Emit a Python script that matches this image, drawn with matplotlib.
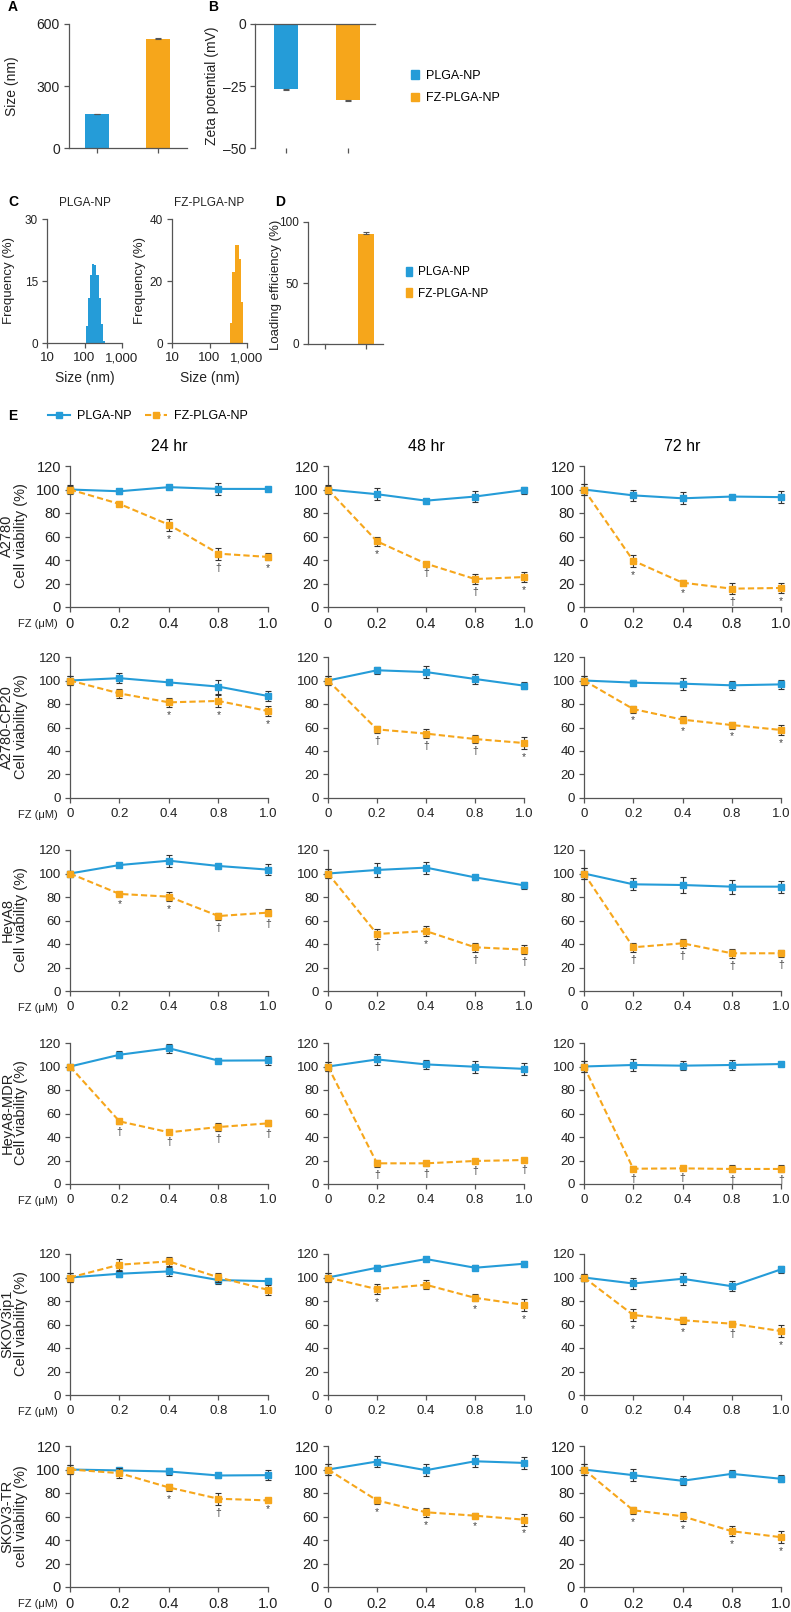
import matplotlib.pyplot as plt
from matplotlib.lines import Line2D
from matplotlib.patches import Patch

W, H = 791, 1612
BLUE = '#259cd8'
ORANGE = '#f6a61b'
GREY = '#555555'
EBAR = '#333333'
TXT = '#222222'

plt.rcParams['font.family'] = ['Liberation Sans', 'DejaVu Sans']

# --- A / B / D bar data ---
groups = ['PLGA-NP', 'FZ-PLGA-NP']
size_nm = [164, 527]
size_err = [2, 4]
zeta_mv = [-26.1, -30.5]
zeta_err = [0.6, 0.6]
loading = [0, 90.2]
loading_err = [0, 1.5]

# --- C size distributions (bin edges in nm, frequency in %) ---
plga_edges = [107, 122, 140, 160, 182, 208, 238, 272, 310, 354]
plga_freq = [4.0, 11.0, 16.5, 19.2, 18.9, 16.5, 11.0, 4.7, 0.6]
fz_edges = [359, 406, 469, 600, 678, 766]
fz_freq = [6.4, 23.0, 31.5, 27.0, 13.3]

# --- E cell viability ---
doses = ['0', '0.2', '0.4', '0.8', '1.0']
hours = ['24 hr', '48 hr', '72 hr']
cell_labels = ['A2780\nCell viability (%)', 'A2780-CP20\nCell viability (%)',
               'HeyA8\nCell viability (%)', 'HeyA8-MDR\nCell viability (%)',
               'SKOV3ip1\nCell viability (%)', 'SKOV3-TR\ncell viability (%)']

a2780_plga = [[100, 98.5, 102, 100.5, 100.5], [100, 96, 90.5, 94, 99.5], [100, 95, 92.5, 94, 93.5]]
a2780_plga_err = [[4, 2, 1, 5, 1], [4, 5, 1, 5, 3], [5, 5, 5, 1, 5]]
a2780_fz = [[100, 87.7, 70, 45.4, 42.6], [100, 55.9, 36.9, 23.8, 25.5], [100, 39.4, 20.7, 15.6, 16.2]]
a2780_fz_err = [[3, 2, 5, 5, 3], [3, 4, 1.5, 4, 4], [5, 5, 2, 4.5, 4]]
a2780_sig = [['', '', '*', '†', '*'], ['', '*', '†', '†', '*'], ['', '*', '*', '†', '*']]

cp20_plga = [[100, 102, 98.4, 94.8, 86.8], [100, 108.7, 107.2, 101.3, 95.6], [100, 98.2, 97.3, 95.9, 96.7]]
cp20_plga_err = [[4, 4, 2, 6, 4], [4, 3, 5, 4, 3], [4, 2, 5, 4, 4]]
cp20_fz = [[100, 89, 81.4, 82.6, 74], [100, 58.4, 54.8, 50.2, 46.8], [100, 75.7, 66.7, 62.1, 57.9]]
cp20_fz_err = [[4, 3.5, 4, 5, 4.5], [4, 3, 4, 3, 5], [4, 3, 3, 3, 4.5]]
cp20_sig = [['', '', '*', '*', '*'], ['', '†', '†', '†', '*'], ['', '*', '*', '*', '*']]

heya8_plga = [[100, 107.2, 110.9, 106.4, 103.3], [100, 103, 105, 96.7, 89.9], [100, 90.8, 90.2, 88.8, 88.8]]
heya8_plga_err = [[2, 2, 5, 2, 5], [4, 6, 5, 2, 3], [5, 5, 7, 6, 5]]
heya8_fz = [[100, 82.6, 80.3, 63.8, 66.7], [100, 48.5, 51, 37.2, 35.2], [100, 37.2, 40.6, 32.1, 32.1]]
heya8_fz_err = [[2, 2, 4, 3, 3], [4, 4, 4, 4, 4], [5, 4, 4, 4, 3]]
heya8_sig = [['', '*', '*', '†', '†'], ['', '†', '*', '†', '†'], ['', '†', '†', '†', '†']]

mdr_plga = [[100, 110, 115.5, 105, 105.2], [100, 106, 101.8, 99.8, 98], [100, 101.3, 100.7, 101.3, 102.1]]
mdr_plga_err = [[1, 3, 4, 1.5, 4], [4, 5, 4, 5, 5], [5, 5, 4, 4, 2]]
mdr_fz = [[100, 53.3, 44, 48.5, 51.6], [100, 17.6, 17.6, 19.6, 20.4], [100, 13, 13.3, 12.8, 12.8]]
mdr_fz_err = [[1, 2, 1.5, 3.5, 2.5], [4, 3, 2, 2, 1.5], [5, 2, 1.5, 3, 3]]
mdr_sig = [['', '†', '†', '†', '†'], ['', '†', '†', '†', '†'], ['', '†', '†', '†', '†']]

ip1_plga = [[100, 103.2, 105.2, 97.8, 96.9], [100, 108.3, 115.7, 108.3, 111.7], [100, 94.9, 98.9, 92.6, 106.9]]
ip1_plga_err = [[4, 3, 4, 3, 2], [4, 2, 2, 2, 2], [3, 5, 5, 4, 3]]
ip1_fz = [[100, 110.9, 113.7, 100.1, 89.5], [100, 90.1, 93.8, 82.7, 76.7], [100, 68.1, 63.6, 60.7, 54.4]]
ip1_fz_err = [[4, 5, 4, 4, 4], [4, 4, 4, 3, 5], [3, 5, 3, 2, 5]]
ip1_sig = [['', '', '', '', ''], ['', '*', '', '*', '*'], ['', '*', '*', '†', '*']]

tr_plga = [[100, 99.2, 98.3, 94.9, 95.2], [100, 106.8, 99.4, 107, 105.6], [100, 95.2, 90.4, 96.3, 92.1]]
tr_plga_err = [[4, 2, 3, 2, 4], [5, 5, 5, 5, 5], [5, 5, 4, 3, 3]]
tr_fz = [[100, 96.9, 84.7, 75.1, 73.7], [100, 73.7, 63.6, 60.7, 57.3], [100, 65.3, 60.2, 47.5, 42.4]]
tr_fz_err = [[4, 4, 3, 5, 1], [5, 3, 4, 2, 5], [5, 3, 4, 4, 5]]
tr_sig = [['', '', '*', '†', '*'], ['', '*', '*', '*', '*'], ['', '*', '*', '*', '*']]

rows = [
    (a2780_plga, a2780_plga_err, a2780_fz, a2780_fz_err, a2780_sig),
    (cp20_plga, cp20_plga_err, cp20_fz, cp20_fz_err, cp20_sig),
    (heya8_plga, heya8_plga_err, heya8_fz, heya8_fz_err, heya8_sig),
    (mdr_plga, mdr_plga_err, mdr_fz, mdr_fz_err, mdr_sig),
    (ip1_plga, ip1_plga_err, ip1_fz, ip1_fz_err, ip1_sig),
    (tr_plga, tr_plga_err, tr_fz, tr_fz_err, tr_sig),
]


def box(x0, y0, x1, y1):
    # pixel box (top-left origin) -> figure fraction
    return [x0 / W, 1 - y1 / H, (x1 - x0) / W, (y1 - y0) / H]


def style(ax, size=9.5):
    for s in ['top', 'right']:
        ax.spines[s].set_visible(False)
    for s in ['left', 'bottom']:
        ax.spines[s].set_color(GREY)
        ax.spines[s].set_linewidth(0.9)
    ax.tick_params(colors=GREY, labelcolor=TXT, length=3.5, width=0.9, labelsize=size, pad=3)


def vlabel(x, y, text, size):
    fig.text(x / W, 1 - y / H, text, rotation=90, ha='center', va='center',
             fontsize=size, color=TXT, multialignment='center', linespacing=0.95)


fig = plt.figure(figsize=(W / 100, H / 100), dpi=100)
ebar_kw = dict(ecolor=GREY, capsize=2.5, elinewidth=0.8, capthick=0.8)

# ---------------- A ----------------
ax = fig.add_axes(box(69, 24, 187, 148))
ax.bar([0, 1], size_nm, width=0.39, color=[BLUE, ORANGE],
       yerr=[[0, 0], size_err], error_kw=ebar_kw)
ax.set_xlim(-0.46, 1.475)
ax.set_ylim(0, 600)
ax.set_yticks([0, 300, 600])
ax.set_xticks([0, 1])
ax.set_xticklabels([])
style(ax, 10)
vlabel(12, 86, 'Size (nm)', 10)
fig.text(8 / W, 1 - 7 / H, 'A', fontsize=10, fontweight='bold', va='center')

# ---------------- B ----------------
ax = fig.add_axes(box(255, 24, 375, 148))
ax.bar([0, 1], zeta_mv, width=0.39, color=[BLUE, ORANGE],
       yerr=[zeta_err, [0, 0]], error_kw=ebar_kw)
ax.set_xlim(-0.5, 1.435)
ax.set_ylim(-50, 0)
ax.set_yticks([-50, -25, 0])
ax.set_yticklabels(['–50', '–25', '0'])
ax.set_xticks([0, 1])
ax.set_xticklabels([])
style(ax, 10)
ax.spines['bottom'].set_visible(False)
ax.axhline(0, color=GREY, lw=0.9, clip_on=False)
vlabel(212, 86, 'Zeta potential (mV)', 10)
fig.text(208 / W, 1 - 7 / H, 'B', fontsize=10, fontweight='bold', va='center')

fig.legend(handles=[Patch(color=BLUE), Patch(color=ORANGE)], labels=groups,
           loc='center left', bbox_to_anchor=(405 / W, 1 - 87 / H), frameon=False,
           handlelength=0.6, handleheight=0.7, handletextpad=0.6, labelspacing=0.85,
           fontsize=9, borderpad=0)

# ---------------- C ----------------
for x0, x1, edges, freq, color, ymax, title, lx in [
        (47, 122, plga_edges, plga_freq, BLUE, 30, 'PLGA-NP', 9),
        (172, 247, fz_edges, fz_freq, ORANGE, 40, 'FZ-PLGA-NP', 140)]:
    ax = fig.add_axes(box(x0, 219, x1, 343))
    ax.stairs(freq, edges, fill=True, color=color)
    ax.set_xscale('log')
    ax.set_xlim(10, 1000)
    ax.set_ylim(0, ymax)
    ax.set_yticks([0, ymax / 2, ymax])
    ax.set_yticklabels(['0', str(ymax // 2), str(ymax)])
    ax.set_xticks([10, 100, 1000])
    ax.set_xticklabels(['10', '100', '1,000'])
    ax.minorticks_off()
    style(ax, 9.5)
    ax.tick_params(axis='y', labelsize=8.5)
    ax.set_xlabel('Size (nm)', fontsize=10, color=TXT, labelpad=5)
    ax.set_title(title, fontsize=8.5, pad=9, color=TXT)
    vlabel(lx, 281, 'Frequency (%)', 9.5)
fig.text(8 / W, 1 - 202 / H, 'C', fontsize=10, fontweight='bold', va='center')

# ---------------- D ----------------
ax = fig.add_axes(box(308, 222, 383, 344))
ax.bar([0, 1], loading, width=0.37, color=[BLUE, ORANGE],
       yerr=[[0, 0], loading_err], error_kw=ebar_kw)
ax.set_xlim(-0.415, 1.415)
ax.set_ylim(0, 100)
ax.set_yticks([0, 50, 100])
ax.set_xticks([0, 1])
ax.set_xticklabels([])
style(ax, 8.5)
vlabel(276, 285, 'Loading efficiency (%)', 9.5)
fig.text(275 / W, 1 - 202 / H, 'D', fontsize=10, fontweight='bold', va='center')
fig.legend(handles=[Patch(color=BLUE), Patch(color=ORANGE)], labels=groups,
           loc='center left', bbox_to_anchor=(400 / W, 1 - 283 / H), frameon=False,
           handlelength=0.5, handleheight=0.8, handletextpad=0.5, labelspacing=0.8,
           fontsize=8.5, borderpad=0)

# ---------------- E ----------------
fig.text(8 / W, 1 - 416 / H, 'E', fontsize=10, fontweight='bold', va='center')
fig.legend(handles=[Line2D([], [], color=BLUE, lw=1.5, marker='s', ms=5),
                    Line2D([], [], color=ORANGE, lw=1.5, ls=(0, (3, 1.5)), marker='s', ms=5)],
           labels=groups, loc='center left', bbox_to_anchor=(42 / W, 1 - 416 / H),
           ncol=2, frameon=False, handlelength=1.7, handletextpad=0.6,
           columnspacing=1.1, fontsize=9, borderpad=0)

row_tops = [466, 657, 850, 1043, 1254, 1446]
cols = [(70, 268), (328, 524), (584, 781)]
narrow_rows = [1, 2, 3, 4]
xs = list(range(len(doses)))

for c, (x0, x1) in enumerate(cols):
    fig.text((x0 + x1) / 2 / W, 1 - 447 / H, hours[c], ha='center', va='center', fontsize=11.5)

for r, (plga, plga_err, fz, fz_err, sig) in enumerate(rows):
    y120 = row_tops[r]
    y0 = y120 + 141
    for c, (x0, x1) in enumerate(cols):
        ax = fig.add_axes(box(x0, y120, x1, y0))
        ax.errorbar(xs, plga[c], yerr=plga_err[c], color=BLUE, lw=1.5, marker='s', ms=4.8,
                    ecolor=EBAR, elinewidth=0.8, capsize=2, capthick=0.8, zorder=3)
        ax.errorbar(xs, fz[c], yerr=fz_err[c], color=ORANGE, lw=1.5, ls=(0, (3, 1.5)),
                    marker='s', ms=4.8, ecolor=EBAR, elinewidth=0.8, capsize=2,
                    capthick=0.8, zorder=4)
        for i, mark in enumerate(sig[c]):
            if mark:
                ax.annotate(mark, (i, fz[c][i] - fz_err[c][i]), xytext=(0, -8),
                            textcoords='offset pixels', ha='center', va='center',
                            fontsize=7.5, color='#444444')
        for art in ax.lines + ax.collections:
            art.set_clip_on(False)
        ax.set_xlim(0, 4)
        ax.set_ylim(0, 120)
        ax.set_yticks(range(0, 121, 20))
        ax.set_xticks(xs)
        ax.set_xticklabels(doses)
        style(ax, 9.5 if r in narrow_rows else 10.5)
        ax.tick_params(axis='x', pad=4)
        if c == 0:
            fig.text(58 / W, 1 - (y0 + 17) / H, 'FZ (μM)', ha='right', va='center',
                     fontsize=8, color=TXT)
    vlabel(14, y120 + 70, cell_labels[r], 10.5)

fig.savefig('out.png', dpi=100)
